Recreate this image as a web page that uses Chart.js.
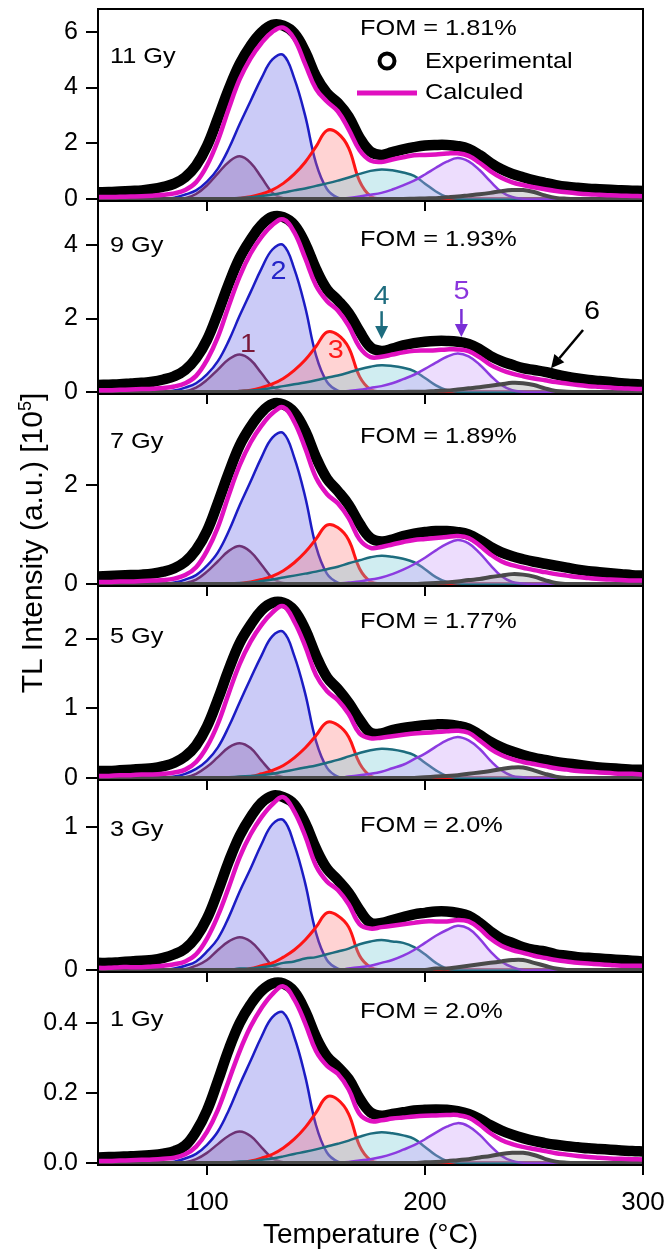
<!DOCTYPE html>
<html>
<head>
<meta charset="utf-8">
<title>TL glow curves</title>
<script src="https://cdn.jsdelivr.net/npm/chart.js@4.4.0/dist/chart.umd.min.js"></script>
<style>
	body { margin: 0; background: #fff; overflow: hidden; }
	#wrap { position: relative; width: 670px; height: 1256px; background: #fff; }
	#wrap canvas { position: absolute; left: 0; }
	#ytitle {
		position: absolute; left: -175px; top: 525px; width: 400px; height: 36px;
		line-height: 36px; text-align: center; white-space: nowrap;
		font-family: "Liberation Sans", Arial, sans-serif; font-size: 30px; color: #000;
		transform: rotate(-90deg);
	}
	#ytitle sup { font-size: 0.6em; }
</style>
</head>
<body>
<div id="wrap">
	<div id="ytitle">TL Intensity (a.u.) [10<sup>5</sup>]</div>
</div>

<script>
// temperature grid (°C)
const temps = [50,55,60,65,70,75,80,85,90,95,
	100,105,110,115,120,125,130,135,140,145,
	150,155,160,165,170,175,180,185,190,195,
	200,205,210,215,220,225,230,235,240,245,
	250,255,260,265,270,275,280,285,290,295,300];
const xTicks = [100, 200, 300];

// ---- 11 Gy ----
const gy11_1 = [0,0,0,0,0,0,0,0,0.03,0.18,
	0.49,0.92,1.33,1.53,1.3,0.77,0.23,0.03,0,0,
	0,0,0,0,0,0,0,0,0,0,
	0,0,0,0,0,0,0,0,0,0,
	0,0,0,0,0,0,0,0,0,0,0];
const gy11_2 = [0,0,0,0,0,0,0,0.05,0.16,0.31,
	0.62,1.09,1.81,2.69,3.52,4.34,5.01,5.17,4.34,3.0,
	1.29,0.36,0.05,0,0,0,0,0,0,0,
	0,0,0,0,0,0,0,0,0,0,
	0,0,0,0,0,0,0,0,0,0,0];
const gy11_3 = [0,0,0,0,0,0,0,0,0,0,
	0,0,0,0.03,0.08,0.18,0.33,0.56,0.89,1.32,
	1.88,2.46,2.36,1.83,0.64,0.1,0,0,0,0,
	0,0,0,0,0,0,0,0,0,0,
	0,0,0,0,0,0,0,0,0,0,0];
const gy11_4 = [0,0,0,0,0,0,0,0,0,0,
	0,0,0.02,0.04,0.06,0.11,0.16,0.23,0.31,0.38,
	0.47,0.56,0.66,0.77,0.9,1.01,1.06,1.03,0.95,0.83,
	0.55,0.27,0.07,0.01,0,0,0,0,0,0,
	0,0,0,0,0,0,0,0,0,0,0];
const gy11_5 = [0,0,0,0,0,0,0,0,0,0,
	0,0,0,0,0,0,0,0,0,0,
	0,0,0.01,0.04,0.09,0.15,0.22,0.34,0.49,0.66,
	0.88,1.12,1.34,1.47,1.35,1.04,0.63,0.26,0.07,0.01,
	0,0,0,0,0,0,0,0,0,0,0];
const gy11_6 = [0,0,0,0,0,0,0,0,0,0,
	0,0,0,0,0,0,0,0,0,0,
	0,0,0,0,0,0,0,0,0,0.01,
	0.02,0.03,0.06,0.09,0.13,0.17,0.22,0.28,0.32,0.32,
	0.25,0.13,0.04,0.01,0,0,0,0,0,0,0];
const gy11_fit = [0.07,0.07,0.08,0.09,0.1,0.12,0.15,0.2,0.32,0.6,
	1.2,2.1,3.25,4.3,5.05,5.6,6.0,6.15,5.75,4.85,
	3.95,3.5,3.15,2.5,1.75,1.38,1.33,1.42,1.5,1.57,
	1.58,1.6,1.63,1.64,1.55,1.3,1.0,0.76,0.6,0.5,
	0.42,0.35,0.29,0.24,0.2,0.17,0.15,0.13,0.12,0.11,0.1];
const gy11_exp = [0.24,0.25,0.27,0.29,0.31,0.36,0.44,0.55,0.78,1.2,
	1.9,2.9,3.95,4.85,5.5,5.98,6.25,6.22,5.95,5.3,
	4.4,3.8,3.45,2.95,2.2,1.7,1.58,1.68,1.78,1.86,
	1.92,1.94,1.94,1.9,1.8,1.58,1.3,1.07,0.9,0.78,
	0.67,0.58,0.5,0.44,0.4,0.37,0.35,0.33,0.31,0.3,0.29];

// ---- 9 Gy ----
const gy9_1 = [0,0,0,0,0,0,0,0,0.02,0.12,
	0.33,0.61,0.89,1.02,0.87,0.51,0.15,0.02,0,0,
	0,0,0,0,0,0,0,0,0,0,
	0,0,0,0,0,0,0,0,0,0,
	0,0,0,0,0,0,0,0,0,0,0];
const gy9_2 = [0,0,0,0,0,0,0,0.04,0.12,0.24,
	0.48,0.84,1.4,2.08,2.72,3.36,3.88,4.0,3.36,2.32,
	1.0,0.28,0.04,0,0,0,0,0,0,0,
	0,0,0,0,0,0,0,0,0,0,
	0,0,0,0,0,0,0,0,0,0,0];
const gy9_3 = [0,0,0,0,0,0,0,0,0,0,
	0,0,0,0.02,0.05,0.12,0.22,0.37,0.59,0.87,
	1.24,1.63,1.56,1.21,0.42,0.07,0,0,0,0,
	0,0,0,0,0,0,0,0,0,0,
	0,0,0,0,0,0,0,0,0,0,0];
const gy9_4 = [0,0,0,0,0,0,0,0,0,0,
	0,0,0.01,0.03,0.04,0.07,0.11,0.16,0.21,0.26,
	0.32,0.39,0.45,0.53,0.62,0.69,0.73,0.71,0.66,0.57,
	0.38,0.18,0.05,0.01,0,0,0,0,0,0,
	0,0,0,0,0,0,0,0,0,0,0];
const gy9_5 = [0,0,0,0,0,0,0,0,0,0,
	0,0,0,0,0,0,0,0,0,0,
	0,0,0.01,0.03,0.06,0.11,0.16,0.24,0.35,0.47,
	0.63,0.8,0.96,1.05,0.97,0.75,0.45,0.19,0.05,0.01,
	0,0,0,0,0,0,0,0,0,0,0];
const gy9_6 = [0,0,0,0,0,0,0,0,0,0,
	0,0,0,0,0,0,0,0,0,0,
	0,0,0,0,0,0,0,0,0,0.01,
	0.01,0.03,0.04,0.07,0.1,0.13,0.17,0.21,0.25,0.24,
	0.19,0.1,0.03,0.01,0,0,0,0,0,0,0];
const gy9_fit = [0.05,0.05,0.06,0.07,0.08,0.09,0.11,0.15,0.24,0.44,
	0.87,1.5,2.35,3.15,3.77,4.22,4.55,4.7,4.35,3.65,
	2.9,2.48,2.22,1.8,1.22,0.95,0.96,1.02,1.08,1.12,
	1.13,1.14,1.16,1.16,1.11,0.95,0.74,0.6,0.5,0.43,
	0.37,0.32,0.27,0.23,0.19,0.16,0.14,0.12,0.1,0.09,0.08];
const gy9_exp = [0.19,0.2,0.21,0.23,0.25,0.28,0.34,0.43,0.6,0.92,
	1.42,2.15,2.95,3.65,4.15,4.55,4.77,4.76,4.55,4.05,
	3.35,2.8,2.5,2.15,1.65,1.22,1.12,1.18,1.27,1.33,
	1.37,1.39,1.39,1.37,1.31,1.17,0.98,0.84,0.74,0.65,
	0.6,0.55,0.48,0.42,0.37,0.33,0.3,0.27,0.24,0.22,0.2];

// ---- 7 Gy ----
const gy7_1 = [0,0,0,0,0,0,0,0,0.02,0.09,
	0.25,0.46,0.67,0.77,0.65,0.39,0.12,0.02,0,0,
	0,0,0,0,0,0,0,0,0,0,
	0,0,0,0,0,0,0,0,0,0,
	0,0,0,0,0,0,0,0,0,0,0];
const gy7_2 = [0,0,0,0,0,0,0,0.03,0.09,0.18,
	0.37,0.64,1.07,1.59,2.07,2.56,2.96,3.05,2.56,1.77,
	0.76,0.21,0.03,0,0,0,0,0,0,0,
	0,0,0,0,0,0,0,0,0,0,
	0,0,0,0,0,0,0,0,0,0,0];
const gy7_3 = [0,0,0,0,0,0,0,0,0,0,
	0,0,0,0.01,0.04,0.09,0.16,0.27,0.43,0.64,
	0.91,1.19,1.14,0.89,0.31,0.05,0,0,0,0,
	0,0,0,0,0,0,0,0,0,0,
	0,0,0,0,0,0,0,0,0,0,0];
const gy7_4 = [0,0,0,0,0,0,0,0,0,0,
	0,0,0.01,0.02,0.03,0.06,0.09,0.13,0.17,0.21,
	0.25,0.3,0.35,0.42,0.48,0.54,0.57,0.55,0.51,0.44,
	0.3,0.14,0.04,0.01,0,0,0,0,0,0,
	0,0,0,0,0,0,0,0,0,0,0];
const gy7_5 = [0,0,0,0,0,0,0,0,0,0,
	0,0,0,0,0,0,0,0,0,0,
	0,0,0.01,0.03,0.05,0.09,0.13,0.2,0.29,0.4,
	0.53,0.68,0.81,0.89,0.82,0.63,0.38,0.16,0.04,0.01,
	0,0,0,0,0,0,0,0,0,0,0];
const gy7_6 = [0,0,0,0,0,0,0,0,0,0,
	0,0,0,0,0,0,0,0,0,0,
	0,0,0,0,0,0,0,0,0,0,
	0.01,0.02,0.03,0.05,0.08,0.1,0.14,0.17,0.2,0.19,
	0.15,0.08,0.02,0,0,0,0,0,0,0,0];
const gy7_fit = [0.04,0.04,0.05,0.05,0.06,0.07,0.08,0.11,0.18,0.34,
	0.67,1.15,1.8,2.4,2.86,3.2,3.45,3.57,3.28,2.75,
	2.15,1.82,1.63,1.33,0.9,0.73,0.75,0.8,0.85,0.89,
	0.91,0.93,0.95,0.97,0.93,0.78,0.6,0.46,0.38,0.33,
	0.28,0.24,0.2,0.17,0.14,0.12,0.1,0.09,0.08,0.07,0.07];
const gy7_exp = [0.15,0.16,0.17,0.18,0.19,0.21,0.25,0.32,0.45,0.69,
	1.07,1.64,2.25,2.8,3.18,3.47,3.64,3.63,3.47,3.1,
	2.56,2.13,1.88,1.6,1.22,0.93,0.86,0.9,0.97,1.02,
	1.05,1.07,1.07,1.05,1.0,0.89,0.75,0.64,0.56,0.5,
	0.45,0.41,0.37,0.33,0.29,0.26,0.24,0.22,0.2,0.18,0.17];

// ---- 5 Gy ----
const gy5_1 = [0,0,0,0,0,0,0,0,0.01,0.06,
	0.16,0.3,0.44,0.5,0.43,0.25,0.08,0.01,0,0,
	0,0,0,0,0,0,0,0,0,0,
	0,0,0,0,0,0,0,0,0,0,
	0,0,0,0,0,0,0,0,0,0,0];
const gy5_2 = [0,0,0,0,0,0,0,0.02,0.06,0.13,
	0.25,0.44,0.74,1.09,1.43,1.76,2.04,2.1,1.76,1.22,
	0.53,0.15,0.02,0,0,0,0,0,0,0,
	0,0,0,0,0,0,0,0,0,0,
	0,0,0,0,0,0,0,0,0,0,0];
const gy5_3 = [0,0,0,0,0,0,0,0,0,0,
	0,0,0,0.01,0.02,0.06,0.11,0.18,0.29,0.43,
	0.61,0.8,0.76,0.59,0.21,0.03,0,0,0,0,
	0,0,0,0,0,0,0,0,0,0,
	0,0,0,0,0,0,0,0,0,0,0];
const gy5_4 = [0,0,0,0,0,0,0,0,0,0,
	0,0,0.01,0.02,0.03,0.04,0.06,0.09,0.12,0.15,
	0.18,0.22,0.26,0.31,0.36,0.4,0.42,0.41,0.38,0.33,
	0.22,0.11,0.03,0,0,0,0,0,0,0,
	0,0,0,0,0,0,0,0,0,0,0];
const gy5_5 = [0,0,0,0,0,0,0,0,0,0,
	0,0,0,0,0,0,0,0,0,0,
	0,0,0,0.02,0.04,0.06,0.09,0.14,0.19,0.27,
	0.35,0.45,0.54,0.59,0.54,0.42,0.25,0.11,0.03,0.01,
	0,0,0,0,0,0,0,0,0,0,0];
const gy5_6 = [0,0,0,0,0,0,0,0,0,0,
	0,0,0,0,0,0,0,0,0,0,
	0,0,0,0,0,0,0,0,0,0,
	0.01,0.02,0.03,0.04,0.06,0.08,0.1,0.13,0.15,0.15,
	0.11,0.06,0.02,0,0,0,0,0,0,0,0];
const gy5_fit = [0.03,0.03,0.04,0.04,0.05,0.05,0.06,0.08,0.12,0.23,
	0.45,0.78,1.22,1.64,1.96,2.2,2.38,2.47,2.25,1.9,
	1.48,1.25,1.12,0.92,0.64,0.57,0.58,0.6,0.62,0.64,
	0.65,0.66,0.67,0.68,0.65,0.54,0.42,0.33,0.27,0.23,
	0.2,0.17,0.14,0.12,0.1,0.09,0.08,0.07,0.06,0.06,0.05];
const gy5_exp = [0.1,0.1,0.11,0.12,0.13,0.14,0.17,0.22,0.31,0.47,
	0.74,1.13,1.56,1.94,2.2,2.41,2.52,2.52,2.41,2.14,
	1.76,1.45,1.28,1.08,0.84,0.65,0.64,0.69,0.72,0.74,
	0.76,0.77,0.77,0.75,0.71,0.62,0.52,0.44,0.38,0.33,
	0.29,0.26,0.23,0.21,0.19,0.17,0.15,0.14,0.13,0.12,0.12];

// ---- 3 Gy ----
const gy3_1 = [0,0,0,0,0,0,0,0,0.005,0.03,
	0.07,0.14,0.2,0.23,0.2,0.12,0.03,0.005,0,0,
	0,0,0,0,0,0,0,0,0,0,
	0,0,0,0,0,0,0,0,0,0,
	0,0,0,0,0,0,0,0,0,0,0];
const gy3_2 = [0,0,0,0,0,0,0,0.01,0.03,0.06,
	0.13,0.22,0.37,0.55,0.71,0.88,1.02,1.05,0.88,0.61,
	0.26,0.07,0.01,0,0,0,0,0,0,0,
	0,0,0,0,0,0,0,0,0,0,
	0,0,0,0,0,0,0,0,0,0,0];
const gy3_3 = [0,0,0,0,0,0,0,0,0,0,
	0,0,0,0,0.01,0.03,0.05,0.09,0.14,0.21,
	0.3,0.4,0.38,0.3,0.1,0.02,0,0,0,0,
	0,0,0,0,0,0,0,0,0,0,
	0,0,0,0,0,0,0,0,0,0,0];
const gy3_4 = [0,0,0,0,0,0,0,0,0,0,
	0,0,0,0.01,0.01,0.02,0.03,0.05,0.06,0.08,
	0.09,0.11,0.13,0.15,0.18,0.2,0.21,0.2,0.19,0.16,
	0.11,0.05,0.01,0,0,0,0,0,0,0,
	0,0,0,0,0,0,0,0,0,0,0];
const gy3_5 = [0,0,0,0,0,0,0,0,0,0,
	0,0,0,0,0,0,0,0,0,0,
	0,0,0,0.01,0.02,0.03,0.05,0.07,0.1,0.14,
	0.19,0.24,0.28,0.31,0.29,0.22,0.13,0.06,0.02,0,
	0,0,0,0,0,0,0,0,0,0,0];
const gy3_6 = [0,0,0,0,0,0,0,0,0,0,
	0,0,0,0,0,0,0,0,0,0,
	0,0,0,0,0,0,0,0,0,0,
	0,0.01,0.01,0.02,0.03,0.04,0.05,0.06,0.07,0.07,
	0.05,0.03,0.01,0,0,0,0,0,0,0,0];
const gy3_fit = [0.015,0.015,0.02,0.02,0.02,0.025,0.03,0.04,0.06,0.11,
	0.22,0.38,0.58,0.79,0.95,1.07,1.16,1.21,1.11,0.94,
	0.73,0.62,0.56,0.46,0.32,0.29,0.3,0.31,0.32,0.33,
	0.34,0.34,0.34,0.35,0.34,0.29,0.22,0.17,0.14,0.12,
	0.1,0.085,0.07,0.06,0.05,0.045,0.04,0.035,0.03,0.03,0.03];
const gy3_exp = [0.05,0.05,0.055,0.06,0.065,0.07,0.085,0.11,0.15,0.23,
	0.36,0.55,0.76,0.94,1.07,1.17,1.22,1.21,1.16,1.03,
	0.85,0.71,0.63,0.54,0.42,0.33,0.33,0.35,0.37,0.39,
	0.4,0.41,0.41,0.4,0.38,0.33,0.27,0.22,0.19,0.16,
	0.14,0.13,0.11,0.1,0.09,0.085,0.08,0.075,0.07,0.065,0.06];

// ---- 1 Gy ----
const gy1_1 = [0,0,0,0,0,0,0,0,0.002,0.011,
	0.029,0.054,0.078,0.09,0.077,0.045,0.014,0.002,0,0,
	0,0,0,0,0,0,0,0,0,0,
	0,0,0,0,0,0,0,0,0,0,
	0,0,0,0,0,0,0,0,0,0,0];
const gy1_2 = [0,0,0,0,0,0,0,0.004,0.013,0.026,
	0.052,0.09,0.151,0.224,0.292,0.361,0.417,0.43,0.361,0.249,
	0.108,0.03,0.004,0,0,0,0,0,0,0,
	0,0,0,0,0,0,0,0,0,0,
	0,0,0,0,0,0,0,0,0,0,0];
const gy1_3 = [0,0,0,0,0,0,0,0,0,0,
	0,0,0,0.002,0.006,0.014,0.025,0.043,0.068,0.101,
	0.144,0.189,0.181,0.14,0.049,0.008,0,0,0,0,
	0,0,0,0,0,0,0,0,0,0,
	0,0,0,0,0,0,0,0,0,0,0];
const gy1_4 = [0,0,0,0,0,0,0,0,0,0,
	0,0,0.002,0.004,0.005,0.009,0.013,0.019,0.026,0.032,
	0.039,0.047,0.055,0.064,0.075,0.084,0.088,0.085,0.079,0.069,
	0.046,0.022,0.006,0.001,0,0,0,0,0,0,
	0,0,0,0,0,0,0,0,0,0,0];
const gy1_5 = [0,0,0,0,0,0,0,0,0,0,
	0,0,0,0,0,0,0,0,0,0,
	0,0,0.001,0.003,0.007,0.011,0.017,0.026,0.038,0.051,
	0.068,0.087,0.104,0.114,0.105,0.081,0.049,0.021,0.006,0.001,
	0,0,0,0,0,0,0,0,0,0,0];
const gy1_6 = [0,0,0,0,0,0,0,0,0,0,
	0,0,0,0,0,0,0,0,0,0,
	0,0,0,0,0,0,0,0,0,0,
	0.002,0.003,0.005,0.008,0.011,0.016,0.02,0.026,0.029,0.029,
	0.023,0.012,0.004,0.001,0,0,0,0,0,0,0];
const gy1_fit = [0.006,0.006,0.007,0.008,0.009,0.01,0.012,0.015,0.025,0.047,
	0.089,0.152,0.236,0.32,0.39,0.443,0.483,0.505,0.468,0.4,
	0.32,0.278,0.255,0.21,0.14,0.12,0.122,0.127,0.13,0.133,
	0.135,0.136,0.137,0.137,0.13,0.11,0.085,0.066,0.054,0.046,
	0.04,0.034,0.028,0.024,0.02,0.017,0.015,0.013,0.012,0.011,0.01];
const gy1_exp = [0.016,0.017,0.018,0.019,0.021,0.023,0.027,0.034,0.05,0.09,
	0.15,0.235,0.325,0.4,0.453,0.492,0.513,0.513,0.49,0.435,
	0.36,0.305,0.275,0.24,0.185,0.145,0.135,0.14,0.145,0.15,
	0.152,0.153,0.152,0.148,0.14,0.126,0.108,0.093,0.081,0.071,
	0.063,0.057,0.052,0.048,0.045,0.042,0.04,0.038,0.036,0.034,0.033];

const doseLabels = ['11 Gy', '9 Gy', '7 Gy', '5 Gy', '3 Gy', '1 Gy'];
const fomLabels = ['FOM = 1.81%', 'FOM = 1.93%', 'FOM = 1.89%', 'FOM = 1.77%', 'FOM = 2.0%', 'FOM = 2.0%'];
const yTickVals = [[0, 2, 4, 6], [0, 2, 4], [0, 2], [0, 1, 2], [0, 1], [0, 0.2, 0.4]];

const panels = [
	{ comps: [gy11_1, gy11_2, gy11_3, gy11_4, gy11_5, gy11_6], fit: gy11_fit, exp: gy11_exp },
	{ comps: [gy9_1, gy9_2, gy9_3, gy9_4, gy9_5, gy9_6], fit: gy9_fit, exp: gy9_exp },
	{ comps: [gy7_1, gy7_2, gy7_3, gy7_4, gy7_5, gy7_6], fit: gy7_fit, exp: gy7_exp },
	{ comps: [gy5_1, gy5_2, gy5_3, gy5_4, gy5_5, gy5_6], fit: gy5_fit, exp: gy5_exp },
	{ comps: [gy3_1, gy3_2, gy3_3, gy3_4, gy3_5, gy3_6], fit: gy3_fit, exp: gy3_exp },
	{ comps: [gy1_1, gy1_2, gy1_3, gy1_4, gy1_5, gy1_6], fit: gy1_fit, exp: gy1_exp }
];

// peak numbers and arrows of the 9 Gy panel (data coordinates)
const peakTags = [
	{ text: '1', t: 118.8, v: 1.28, color: '#7a1838' },
	{ text: '2', t: 132.8, v: 3.27, color: '#2424c8' },
	{ text: '3', t: 159, v: 1.1, color: '#ff1a1a' },
	{ text: '4', t: 180.1, v: 2.59, color: '#1d6c7e' },
	{ text: '5', t: 216.7, v: 2.73, color: '#8a35dd' },
	{ text: '6', t: 276.6, v: 2.18, color: '#000' }
];
const peakArrows = [
	{ from: [180.1, 2.2], to: [180.1, 1.44], color: '#1d6c7e' },
	{ from: [216.7, 2.26], to: [216.7, 1.5], color: '#7a2fd6' },
	{ from: [272.5, 1.69], to: [257.8, 0.65], color: '#000' }
];

// layout (pixels)
const panelTop = [9, 201, 394, 586, 780, 972];
const panelBottom = [201, 394, 586, 780, 972, 1165];
const yMin = [-0.072, -0.054, -0.04, -0.029, -0.014, -0.0057];
const yMax = [6.82, 5.2, 3.84, 2.76, 1.33, 0.546];
const doseY = [48, 45, 48, 51, 50, 48];
const fomY = [20, 39, 43, 36, 46, 40];

const FONT = '"Liberation Sans", Arial, sans-serif';
Chart.defaults.font.family = FONT;
Chart.defaults.color = '#000';

const compStyle = [
	{ line: '#6d1034', fill: 'rgba(125,40,105,0.28)', w: 2.5, order: 7 },
	{ line: '#1c1cc4', fill: 'rgba(110,110,232,0.36)', w: 2.5, order: 6 },
	{ line: '#ff1414', fill: 'rgba(255,110,110,0.30)', w: 3, order: 5 },
	{ line: '#1d6c7e', fill: 'rgba(110,200,212,0.32)', w: 2.5, order: 4 },
	{ line: '#8c3be0', fill: 'rgba(200,150,248,0.32)', w: 2.5, order: 3 },
	{ line: '#4a4a4a', fill: 'rgba(120,120,120,0.25)', w: 4, order: 2 }
];

function pts(arr) {
	return temps.map((t, k) => ({ x: t, y: arr[k] }));
}

function drawText(ctx, txt, x, y, size, color, align) {
	ctx.save();
	ctx.translate(x, y);
	ctx.scale(1.15, 1);
	ctx.font = size + 'px ' + FONT;
	ctx.fillStyle = color;
	ctx.textBaseline = 'middle';
	ctx.textAlign = align || 'left';
	ctx.fillText(txt, 0, 0);
	ctx.restore();
}

function drawArrow(ctx, x1, y1, x2, y2, color) {
	const ang = Math.atan2(y2 - y1, x2 - x1);
	const head = 13, half = 6.5;
	const bx = x2 - head * Math.cos(ang), by = y2 - head * Math.sin(ang);
	ctx.save();
	ctx.strokeStyle = color;
	ctx.fillStyle = color;
	ctx.lineWidth = 2.5;
	ctx.beginPath();
	ctx.moveTo(x1, y1);
	ctx.lineTo(bx, by);
	ctx.stroke();
	ctx.beginPath();
	ctx.moveTo(x2, y2);
	ctx.lineTo(bx + half * Math.sin(ang), by - half * Math.cos(ang));
	ctx.lineTo(bx - half * Math.sin(ang), by + half * Math.cos(ang));
	ctx.closePath();
	ctx.fill();
	ctx.restore();
}

const framePlugin = {
	id: 'frame',
	afterDatasetsDraw(chart) {
		const { ctx, chartArea: a } = chart;
		ctx.save();
		ctx.strokeStyle = '#000';
		ctx.lineWidth = 2;
		ctx.strokeRect(a.left, a.top, a.right - a.left, a.bottom - a.top);
		ctx.restore();
	}
};

function notesPlugin(i) {
	return {
		id: 'notes' + i,
		afterDraw(chart) {
			const { ctx, chartArea: a, scales: { x, y } } = chart;
			drawText(ctx, doseLabels[i], a.left + 12, a.top + doseY[i], 22, '#000');
			drawText(ctx, fomLabels[i], a.left + 262, a.top + fomY[i], 22, '#000');
			if (i === 0) {
				ctx.save();
				ctx.strokeStyle = '#000';
				ctx.lineWidth = 4;
				ctx.beginPath();
				ctx.arc(a.left + 289, a.top + 52, 7.5, 0, Math.PI * 2);
				ctx.stroke();
				ctx.strokeStyle = '#e010c0';
				ctx.lineWidth = 5;
				ctx.beginPath();
				ctx.moveTo(a.left + 259, a.top + 84);
				ctx.lineTo(a.left + 319, a.top + 84);
				ctx.stroke();
				ctx.restore();
				drawText(ctx, 'Experimental', a.left + 327, a.top + 53, 22, '#000');
				drawText(ctx, 'Calculed', a.left + 327, a.top + 84, 22, '#000');
			}
			if (i === 1) {
				peakArrows.forEach(ar => {
					drawArrow(ctx, x.getPixelForValue(ar.from[0]), y.getPixelForValue(ar.from[1]),
						x.getPixelForValue(ar.to[0]), y.getPixelForValue(ar.to[1]), ar.color);
				});
				peakTags.forEach(p => {
					drawText(ctx, p.text, x.getPixelForValue(p.t), y.getPixelForValue(p.v), 25, p.color, 'center');
				});
			}
		}
	};
}

const wrap = document.getElementById('wrap');

panels.forEach((p, i) => {
	const last = i === panels.length - 1;
	const axisH = last ? 1256 - panelBottom[i] : 10;
	const canvas = document.createElement('canvas');
	canvas.width = 670;
	canvas.height = panelBottom[i] - panelTop[i] + 3 + axisH;
	canvas.style.top = (panelTop[i] - 3) + 'px';
	wrap.insertBefore(canvas, document.getElementById('ytitle'));

	const datasets = [];
	datasets.push({
		label: 'Calculed', data: pts(p.fit), borderColor: '#e010c0', borderWidth: 4.5,
		pointRadius: 0, fill: false, tension: 0.4, order: 0
	});
	datasets.push({
		label: 'Experimental', data: pts(p.exp), borderColor: '#000', borderWidth: 10.5,
		borderJoinStyle: 'round', pointRadius: 0, fill: false, tension: 0.4, order: 1
	});
	p.comps.forEach((c, k) => {
		const s = compStyle[k];
		datasets.push({
			label: 'Peak ' + (k + 1), data: pts(c), borderColor: s.line, backgroundColor: s.fill,
			borderWidth: s.w, pointRadius: 0, fill: 'origin', tension: 0.4, order: s.order
		});
	});

	new Chart(canvas, {
		type: 'line',
		data: { datasets: datasets },
		options: {
			responsive: false,
			animation: false,
			events: [],
			layout: { autoPadding: false, padding: { top: 3, right: 27, left: 0, bottom: 0 } },
			plugins: { legend: { display: false }, tooltip: { enabled: false } },
			scales: {
				x: {
					type: 'linear', min: 50, max: 300,
					afterBuildTicks: s => { s.ticks = xTicks.map(v => ({ value: v })); },
					afterFit: s => { s.height = axisH; s.paddingLeft = 0; s.paddingRight = 0; },
					ticks: { display: last, autoSkip: false, maxRotation: 0, padding: 12, font: { size: 26 }, color: '#000' },
					grid: { display: true, drawOnChartArea: false, drawTicks: true, tickLength: 10, color: '#000', lineWidth: 2 },
					border: { display: true, color: '#000', width: 2 },
					title: { display: last, text: 'Temperature (°C)', font: { size: 28 }, color: '#000', padding: { top: 2, bottom: 4 } }
				},
				y: {
					min: yMin[i], max: yMax[i],
					afterBuildTicks: s => { s.ticks = yTickVals[i].map(v => ({ value: v })); },
					afterFit: s => { s.width = 98; s.paddingTop = 0; s.paddingBottom = 0; },
					ticks: {
						autoSkip: false, padding: 8, font: { size: 25 }, color: '#000',
						callback: v => (i === 5 ? v.toFixed(1) : String(v))
					},
					grid: { display: true, drawOnChartArea: false, drawTicks: true, tickLength: 12, color: '#000', lineWidth: 2 },
					border: { display: true, color: '#000', width: 2 }
				}
			}
		},
		plugins: [framePlugin, notesPlugin(i)]
	});
});
</script>
</body>
</html>
